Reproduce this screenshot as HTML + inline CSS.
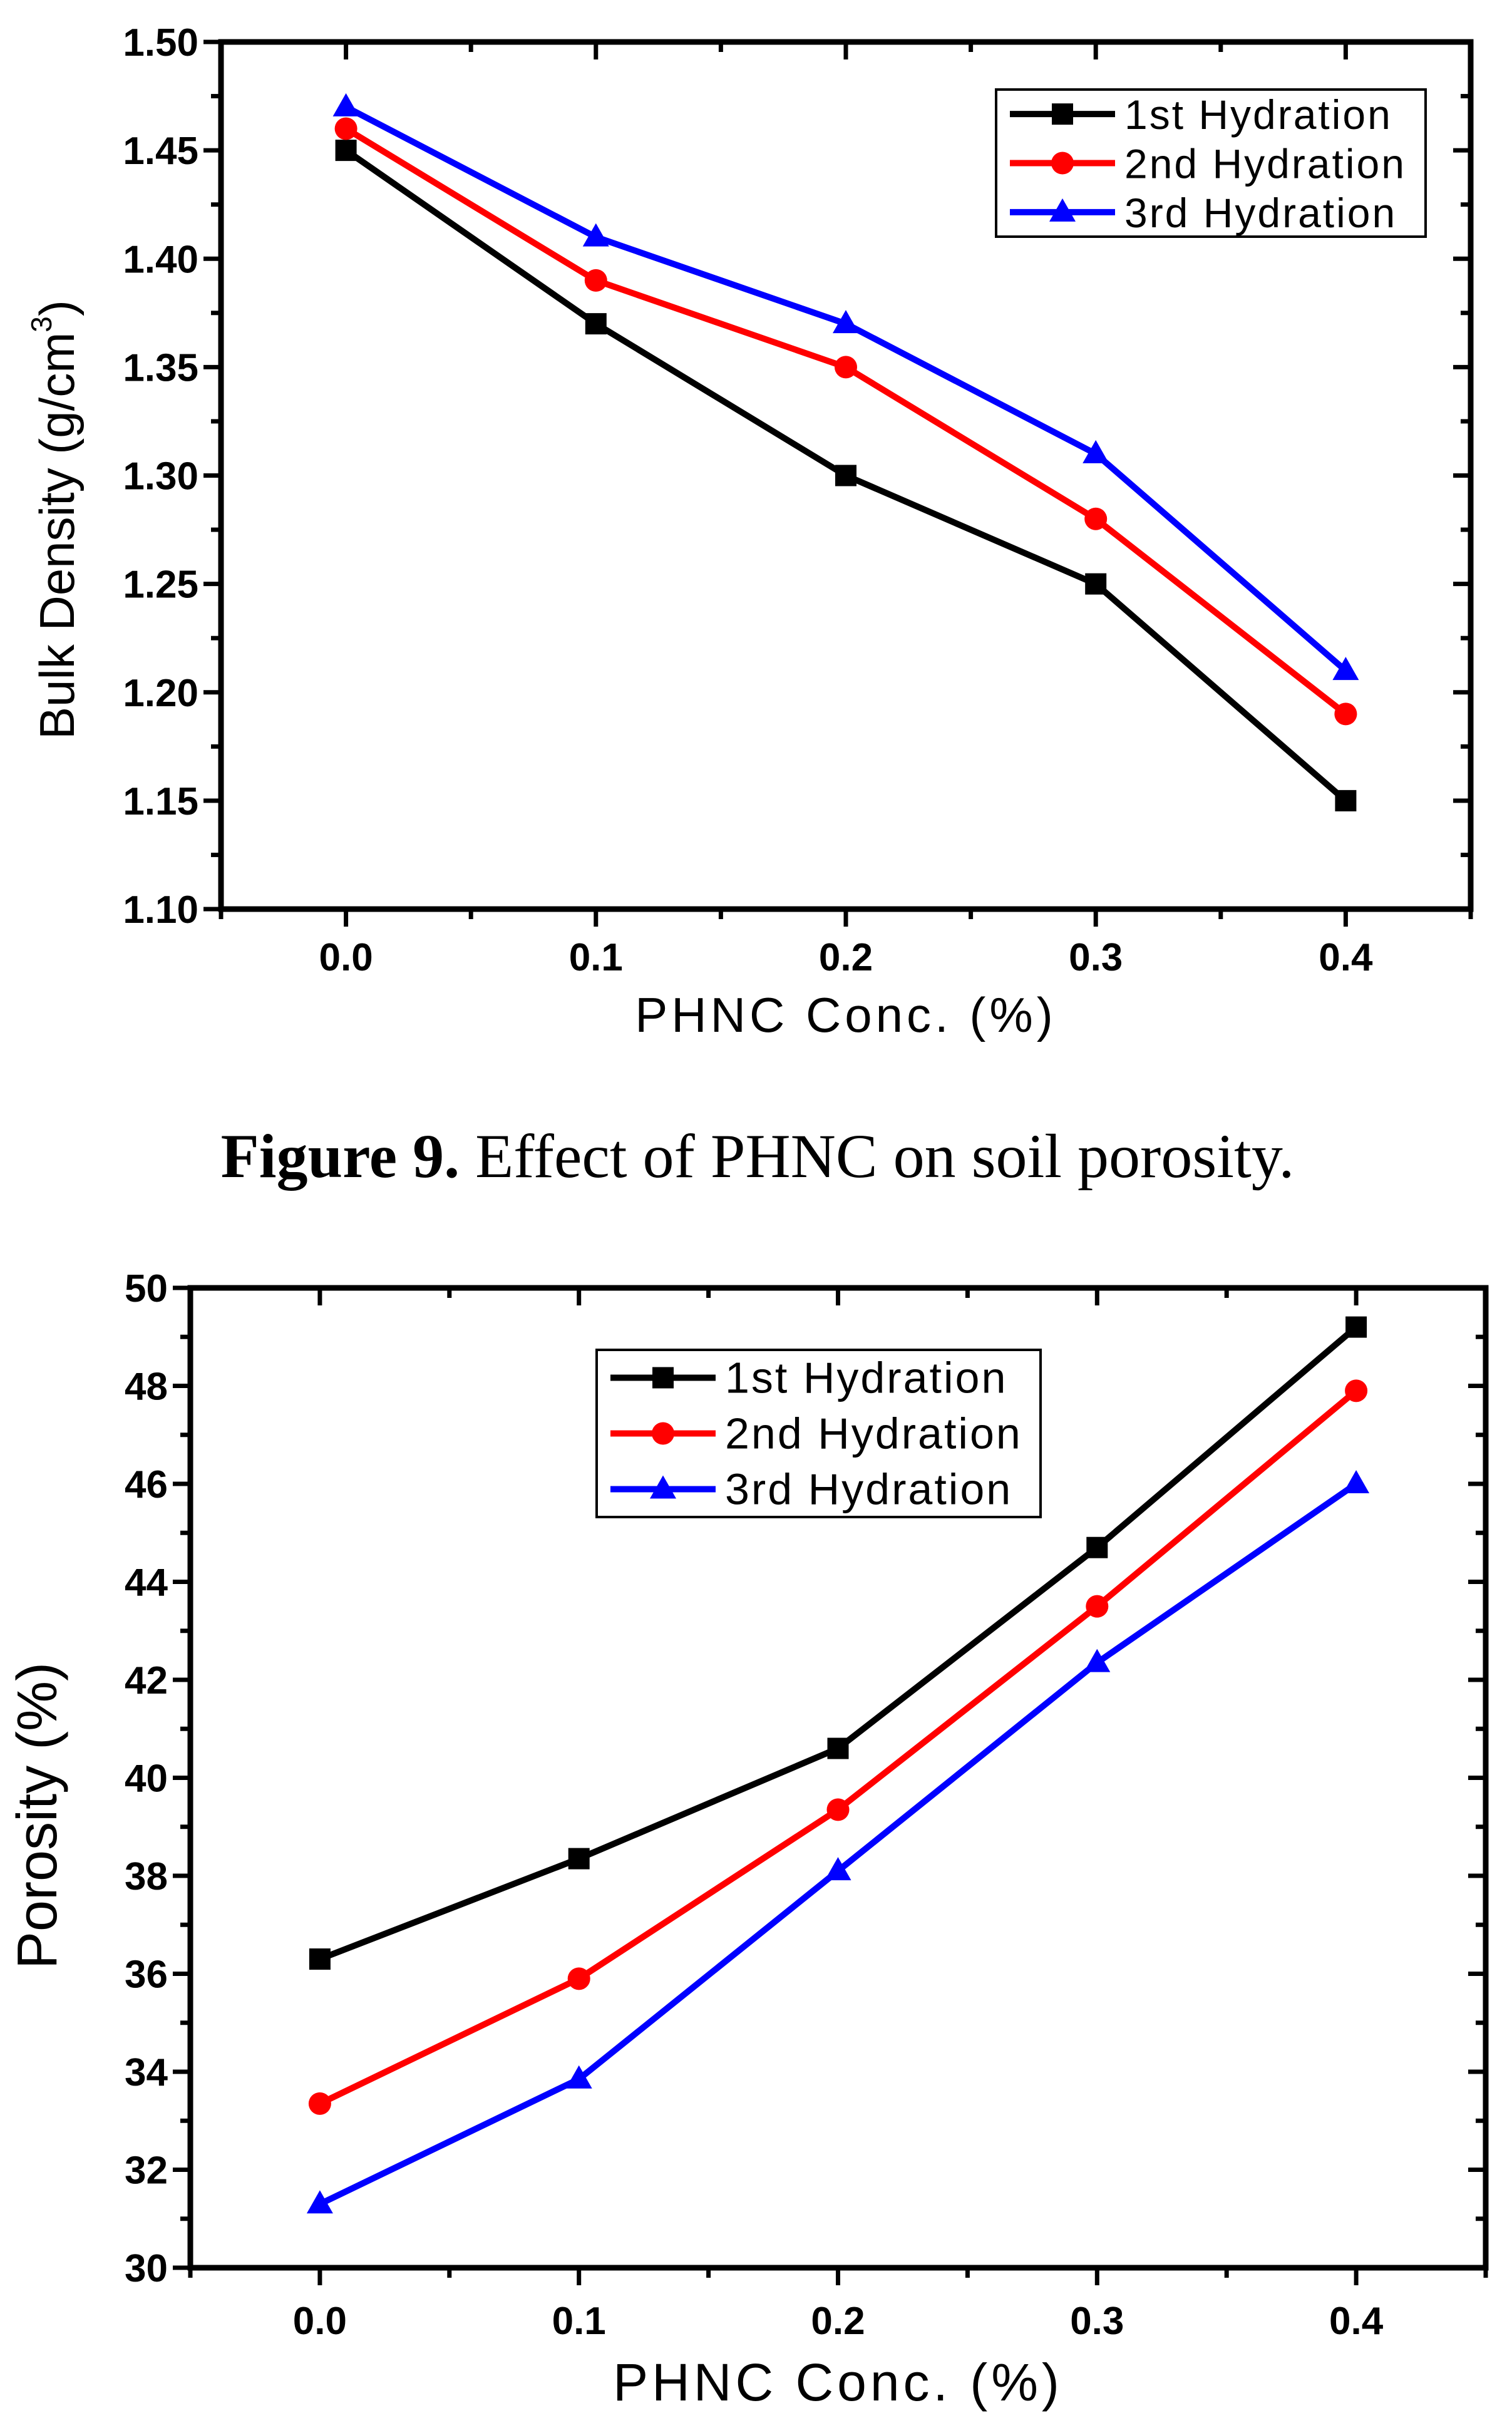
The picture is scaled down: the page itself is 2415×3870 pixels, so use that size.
<!DOCTYPE html>
<html><head><meta charset="utf-8">
<style>
html,body{margin:0;padding:0;background:#fff;}
svg{display:block;}
text{font-family:"Liberation Sans",Arial,sans-serif;}
.tick{font-family:"Liberation Sans Narrow","Liberation Sans",sans-serif;font-weight:bold;font-size:62px;}
.cap{font-family:"Liberation Serif",serif;font-size:100px;}
</style></head>
<body>
<svg id="svg" width="2415" height="3870" viewBox="0 0 2415 3870" xmlns="http://www.w3.org/2000/svg">
<text class="cap" x="1210" y="1880" text-anchor="middle"><tspan font-weight="bold">Figure 9.</tspan> Effect of PHNC on soil porosity.</text>
</svg>
<script>
// Chart 1: bulk density
const xCats = [0.0, 0.1, 0.2, 0.3, 0.4];
const xTickLabels = ["0.0","0.1","0.2","0.3","0.4"];
const seriesNames = ["1st Hydration","2nd Hydration","3rd Hydration"];
const bd1 = [1.45, 1.37, 1.30, 1.25, 1.15];
const bd2 = [1.46, 1.39, 1.35, 1.28, 1.19];
const bd3 = [1.47, 1.41, 1.37, 1.31, 1.21];
const bdTicks = ["1.10","1.15","1.20","1.25","1.30","1.35","1.40","1.45","1.50"];
// Chart 2: porosity
const por1 = [36.3, 38.35, 40.6, 44.7, 49.2];
const por2 = [33.35, 35.9, 39.35, 43.5, 47.9];
const por3 = [31.3, 33.85, 38.1, 42.35, 46.0];
const porTicks = ["30","32","34","36","38","40","42","44","46","48","50"];

const NS = "http://www.w3.org/2000/svg";
const svg = document.getElementById('svg');
const colors = ["#000000","#ff0000","#0000ff"];
function mk(tag, attrs, parent){const e=document.createElementNS(NS,tag);for(const k in attrs)e.setAttribute(k,attrs[k]);(parent||svg).appendChild(e);return e;}

function marker(g, kind, x, y, c){
  let m;
  if(kind===0){m=mk('rect',{x:x-17,y:y-17,width:34,height:34,fill:c},g);}
  else if(kind===1){m=mk('circle',{cx:x,cy:y,r:18,fill:c},g);}
  else {m=mk('polygon',{points:`${x},${y-22} ${x+21},${y+15} ${x-21},${y+15}`,fill:c},g);}
  return m;
}

function chart(o){
  const {L,R,T,B,ymin,ymax,yTicks,yMinorStep,series,prefix,ytitle,ytx,yty,ytSize,xtY,xlabY,xlabSize,legend,legSize}=o;
  const xmin=-0.05,xmax=0.45;
  const sx=v=>L+(v-xmin)/(xmax-xmin)*(R-L);
  const sy=v=>B-(v-ymin)/(ymax-ymin)*(B-T);
  const g=mk('g',{});
  
  
  for(let i=0;i<=10;i++){
    const v=xmin+i*0.05, x=sx(v), major=(i%2===1);
    const len=major?28:16;
    const t=mk('line',{x1:x,y1:B,x2:x,y2:B+len,stroke:'#000','stroke-width':7},g);
    
    
    mk('line',{x1:x,y1:T,x2:x,y2:T+len,stroke:'#000','stroke-width':7},g);
  }
  xCats.forEach((v,i)=>{
    const t=mk('text',{x:sx(v),y:xtY,'text-anchor':'middle',class:'tick'},g);
    t.textContent=xTickLabels[i];
    
    
  });
  const n=yTicks.length;
  for(let i=0;i<n;i++){
    const v=parseFloat(yTicks[i]), y=sy(v);
    mk('line',{x1:L-28,y1:y,x2:L,y2:y,stroke:'#000','stroke-width':7},g);
    mk('line',{x1:R-28,y1:y,x2:R,y2:y,stroke:'#000','stroke-width':7},g);
    const t=mk('text',{x:L-36,y:y+22,'text-anchor':'end',class:'tick'},g);
    t.textContent=yTicks[i];
    
    
    if(i<n-1){
      const ym=sy(v+yMinorStep);
      mk('line',{x1:L-16,y1:ym,x2:L,y2:ym,stroke:'#000','stroke-width':7},g);
      mk('line',{x1:R-16,y1:ym,x2:R,y2:ym,stroke:'#000','stroke-width':7},g);
    }
  }
  const frame=mk('rect',{x:L,y:T,width:R-L,height:B-T,fill:'none',stroke:'#000','stroke-width':9},g);
  
  
  series.forEach((s,k)=>{
    const sg=mk('g',{},g);
    
    
    const pts=s.map((v,i)=>sx(xCats[i])+','+sy(v)).join(' ');
    mk('polyline',{points:pts,fill:'none',stroke:colors[k],'stroke-width':10,'stroke-linejoin':'miter'},sg);
    s.forEach((v,i)=>{
      const m=marker(sg,k,sx(xCats[i]),sy(v),colors[k]);
      
      
    });
  });
  const xt=mk('text',{x:(L+R)/2,y:xlabY,'text-anchor':'middle','font-size':xlabSize,'letter-spacing':6},g);
  xt.textContent='PHNC Conc. (%)';
  
  
  const yt=mk('text',{x:ytx,y:yty,'text-anchor':'middle','font-size':ytSize,transform:`rotate(-90 ${ytx} ${yty})`},g);
  
  
  if(ytitle==='bd'){
    yt.textContent='Bulk Density (g/cm';
    const sup=mk('tspan',{'font-size':46,dy:-36},yt);sup.textContent='3';
    const cl=mk('tspan',{dy:36},yt);cl.textContent=')';
  } else yt.textContent='Porosity (%)';
  const [lx,ly,lw,lh]=legend;
  const lg=mk('g',{},g);
  
  
  mk('rect',{x:lx,y:ly,width:lw,height:lh,fill:'#fff',stroke:'#000','stroke-width':4},lg);
  seriesNames.forEach((nm,k)=>{
    const y=ly+lh*(k+0.5)/3;
    const e=mk('g',{},lg);
    
    
    mk('line',{x1:lx+22,y1:y,x2:lx+190,y2:y,stroke:colors[k],'stroke-width':10},e);
    marker(e,k,lx+106,y,colors[k]);
    const t=mk('text',{x:lx+205,y:y+24,'font-size':legSize,'letter-spacing':3},e);
    t.textContent=nm;
  });
}

chart({L:353,R:2349,T:67,B:1452,ymin:1.10,ymax:1.50,yTicks:bdTicks,yMinorStep:0.025,
  series:[bd1,bd2,bd3],prefix:'bulk-density',ytitle:'bd',ytx:118,yty:830,ytSize:78,xtY:1550,xlabY:1648,xlabSize:78,
  legend:[1591,143,686,235],legSize:66});
chart({L:304,R:2373,T:2057,B:3622,ymin:30,ymax:50,yTicks:porTicks,yMinorStep:1,
  series:[por1,por2,por3],prefix:'porosity',ytitle:'por',ytx:90,yty:2900,ytSize:90,xtY:3728,xlabY:3834,xlabSize:84,
  legend:[953,2156,709,267],legSize:70});
</script>
</body></html>
